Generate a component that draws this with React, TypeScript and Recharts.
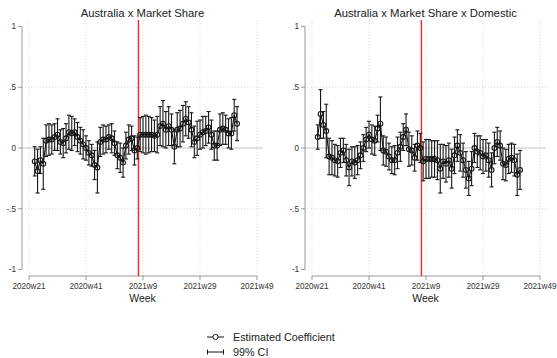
import React from "react";
import {
  ComposedChart,
  Line,
  ErrorBar,
  XAxis,
  YAxis,
  ReferenceLine,
} from "recharts";

// weeks are counted from 2020w21 (Stata weekly dates, 52 per year)
const FIRST_WEEK = 2;
const TREATMENT_WEEK = 38.4;

const WEEK_TICKS = [0, 20, 40, 60, 80];
const WEEK_TICK_LABELS = ["2020w21", "2020w41", "2021w9", "2021w29", "2021w49"];
const Y_TICKS = [-1, -0.5, 0, 0.5, 1];
const Y_TICK_LABELS = ["-1", "-.5", "0", ".5", "1"];

// Australia x Market Share
const COEF_MS = [
  -0.11, -0.19, -0.1, -0.13, 0.06, 0.07, 0.07, 0.09, 0.11, 0.05,
  0.04, 0.08, 0.13, 0.12, 0.13, 0.09, 0.06, 0.03, 0.0, -0.04,
  -0.06, -0.14, -0.16, 0.05, 0.07, 0.07, 0.09, 0.08, 0.04, -0.06,
  -0.08, -0.12, 0.02, 0.07, 0.08, -0.02, 0.0, 0.11, 0.11, 0.11,
  0.11, 0.11, 0.1, 0.11, 0.18, 0.2, 0.15, 0.18, 0.15, 0.01,
  0.15, 0.16, 0.2, 0.24, 0.21, 0.15, 0.05, 0.08, 0.11, 0.13,
  0.14, 0.17, 0.11, 0.02, 0.02, 0.15, 0.16, 0.15, 0.12, 0.12,
  0.27, 0.2,
];
// half width of the 99% CI
const CI_MS = [
  0.12, 0.18, 0.11, 0.21, 0.13, 0.13, 0.12, 0.11, 0.13, 0.1,
  0.12, 0.12, 0.14, 0.14, 0.11, 0.12, 0.11, 0.12, 0.1, 0.1,
  0.09, 0.12, 0.21, 0.12, 0.12, 0.11, 0.1, 0.12, 0.1, 0.11,
  0.12, 0.12, 0.11, 0.12, 0.1, 0.12, 0.09, 0.14, 0.15, 0.16,
  0.15, 0.14, 0.13, 0.15, 0.16, 0.19, 0.15, 0.16, 0.13, 0.14,
  0.14, 0.15, 0.15, 0.14, 0.13, 0.14, 0.13, 0.14, 0.12, 0.13,
  0.12, 0.13, 0.12, 0.12, 0.12, 0.13, 0.13, 0.12, 0.12, 0.13,
  0.13, 0.14,
];

// Australia x Market Share x Domestic
const COEF_DOM = [
  0.09, 0.28, 0.19, 0.14, -0.07, -0.08, -0.1, -0.11, -0.04, -0.02,
  -0.1, -0.16, -0.11, -0.12, -0.1, -0.06, 0.0, 0.07, 0.11, 0.07,
  0.06, 0.16, 0.2, -0.02, -0.03, -0.07, -0.1, -0.1, -0.04, 0.01,
  0.09, 0.15, -0.01, -0.02, -0.08, 0.02, 0.0, -0.11, -0.09, -0.09,
  -0.09, -0.09, -0.1, -0.17, -0.11, -0.13, -0.1, -0.17, -0.06, 0.02,
  -0.04, -0.1, -0.18, -0.25, -0.17, 0.0, -0.03, -0.04, -0.07, -0.06,
  -0.1, -0.18, 0.0, 0.05, 0.02, -0.13, -0.14, -0.09, -0.08, -0.1,
  -0.22, -0.18,
];
const CI_DOM = [
  0.1, 0.2, 0.11, 0.22, 0.15, 0.14, 0.13, 0.13, 0.12, 0.1,
  0.13, 0.15, 0.12, 0.13, 0.12, 0.11, 0.11, 0.1, 0.11, 0.12,
  0.12, 0.11, 0.22, 0.12, 0.12, 0.11, 0.11, 0.12, 0.13, 0.12,
  0.11, 0.13, 0.14, 0.12, 0.11, 0.12, 0.12, 0.16, 0.16, 0.16,
  0.15, 0.15, 0.16, 0.2, 0.14, 0.15, 0.14, 0.16, 0.15, 0.13,
  0.15, 0.14, 0.15, 0.14, 0.14, 0.12, 0.13, 0.14, 0.14, 0.13,
  0.14, 0.14, 0.13, 0.12, 0.12, 0.13, 0.13, 0.12, 0.12, 0.13,
  0.17, 0.16,
];

const X_DOMAIN = [-2.46, 82.1];
const Y_DOMAIN = [-1.053, 1.053];
const AXIS = "#9a9a9a";
const GRID = "#d6d6d6";
const INK = "#161616";
const RED = "#ff2020";
const FONT = "'Liberation Sans', Arial, sans-serif";

const toRows = (coef: number[], ci: number[]) =>
  coef.map((c, i) => ({ week: FIRST_WEEK + i, coef: c, ci: ci[i] }));

function Panel({ title, data, left }: { title: string; data: any[]; left: number }) {
  return (
    <div style={{ position: "absolute", left, top: 0, width: 274, height: 310 }}>
      <div
        style={{
          position: "absolute",
          left: 0,
          width: 285,
          top: 5,
          textAlign: "center",
          fontSize: 11.3,
          lineHeight: "16px",
          color: "#222",
        }}
      >
        {title}
      </div>
      <ComposedChart
        width={274}
        height={310}
        data={data}
        margin={{ top: 20, right: 11, bottom: 0, left: 0 }}
      >
        <XAxis
          type="number"
          dataKey="week"
          domain={X_DOMAIN}
          allowDataOverflow
          ticks={WEEK_TICKS}
          interval={0}
          tickFormatter={(v: number) => WEEK_TICK_LABELS[WEEK_TICKS.indexOf(v)]}
          axisLine={false}
          tickLine={{ stroke: AXIS }}
          tickSize={4}
          tickMargin={3}
          height={34}
          tick={{ fill: "#333", fontSize: 8.2 }}
        />
        <YAxis
          type="number"
          domain={Y_DOMAIN}
          allowDataOverflow
          ticks={Y_TICKS}
          interval={0}
          tickFormatter={(v: number) => Y_TICK_LABELS[Y_TICKS.indexOf(v)]}
          axisLine={false}
          tickLine={{ stroke: AXIS }}
          tickSize={4}
          tickMargin={2}
          width={22}
          tick={{ fill: "#333", fontSize: 8.2 }}
        />
        {WEEK_TICKS.map((w) => (
          <ReferenceLine key={`gx-${w}`} x={w} stroke={GRID} strokeDasharray="1 2" />
        ))}
        <ReferenceLine y={0.5} stroke={GRID} strokeDasharray="1 2" />
        <ReferenceLine y={-0.5} stroke={GRID} strokeDasharray="1 2" />
        <ReferenceLine y={0} stroke="#c4c4c4" strokeWidth={1.2} />
        <ReferenceLine
          ifOverflow="visible"
          segment={[
            { x: X_DOMAIN[0], y: -1 },
            { x: X_DOMAIN[0], y: 1 },
          ]}
          stroke={AXIS}
        />
        <ReferenceLine
          ifOverflow="visible"
          segment={[
            { x: 0, y: Y_DOMAIN[0] },
            { x: 80, y: Y_DOMAIN[0] },
          ]}
          stroke={AXIS}
        />
        {/* a bit wider than 1px so the red survives on any pixel column */}
        <ReferenceLine x={TREATMENT_WEEK} stroke={RED} strokeWidth={1.4} />
        <Line
          type="linear"
          dataKey="coef"
          stroke={INK}
          strokeWidth={1.1}
          dot={{ r: 2.4, stroke: INK, strokeWidth: 1.1, fill: "none" }}
          isAnimationActive={false}
        >
          <ErrorBar
            dataKey="ci"
            direction="y"
            width={2}
            stroke={INK}
            strokeWidth={1.1}
            isAnimationActive={false}
          />
        </Line>
      </ComposedChart>
      <div
        style={{
          position: "absolute",
          left: 0,
          width: 285,
          top: 290,
          textAlign: "center",
          fontSize: 10.5,
          lineHeight: "16px",
          color: "#222",
        }}
      >
        Week
      </div>
    </div>
  );
}

export default function App() {
  return (
    <div
      style={{
        position: "absolute",
        left: 0,
        top: 0,
        width: 557,
        height: 358,
        overflow: "hidden",
        background: "#fff",
        fontFamily: FONT,
      }}
    >
      <Panel title="Australia x Market Share" data={toRows(COEF_MS, CI_MS)} left={0} />
      <Panel
        title="Australia x Market Share x Domestic"
        data={toRows(COEF_DOM, CI_DOM)}
        left={283}
      />
      <svg style={{ position: "absolute", left: 0, top: 0 }} width={557} height={358}>
        <line x1={207} y1={337} x2={224} y2={337} stroke={INK} strokeWidth={1} />
        <circle cx={215.5} cy={337} r={2.6} stroke={INK} strokeWidth={1} fill="#fff" />
        <line x1={207} y1={352} x2={224} y2={352} stroke={INK} strokeWidth={1} />
        <line x1={207.5} y1={349.5} x2={207.5} y2={354.5} stroke={INK} strokeWidth={1} />
        <line x1={223.5} y1={349.5} x2={223.5} y2={354.5} stroke={INK} strokeWidth={1} />
      </svg>
      <div style={{ position: "absolute", left: 233, top: 329, fontSize: 10.8, lineHeight: "16px", color: "#222" }}>
        Estimated Coefficient
      </div>
      <div style={{ position: "absolute", left: 233, top: 344, fontSize: 10.8, lineHeight: "16px", color: "#222" }}>
        99% CI
      </div>
    </div>
  );
}
